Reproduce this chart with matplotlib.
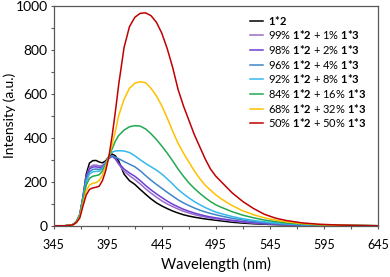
import matplotlib
matplotlib.use("Agg")
from matplotlib import pyplot as plt

plt.rcParams['font.family'] = ['Lato', 'DejaVu Sans']
plt.rcParams['mathtext.fontset'] = 'custom'
plt.rcParams['mathtext.rm'] = 'Lato'
plt.rcParams['mathtext.bf'] = 'Lato:bold'

# comprimentos de onda (nm)
wavelength = [345, 355, 360, 363, 366, 369, 372, 375, 378, 381, 384, 387, 390, 393, 396,
              399, 402, 405, 410, 415, 420, 425, 430, 435, 440, 445, 450, 455, 460, 465,
              470, 475, 480, 485, 490, 495, 500, 510, 520, 530, 540, 550, 560, 575, 590,
              610, 630, 645]

int_0 = [0, 0, 2, 6, 20, 50, 132, 235, 285, 296, 297, 290, 286, 295, 315,
         326, 318, 295, 235, 205, 188, 165, 143, 122, 104, 90, 78, 67, 58, 50,
         44, 39, 35, 31, 28, 25, 22, 16, 12, 9, 7, 5, 4, 3, 2,
         1, 1, 0]
int_1 = [0, 0, 2, 6, 20, 50, 130, 225, 265, 275, 276, 272, 274, 288, 307,
         318, 303, 280, 248, 228, 210, 190, 168, 148, 130, 113, 99, 87, 76, 66,
         58, 51, 45, 40, 35, 31, 28, 22, 16, 12, 9, 7, 5, 3, 2,
         1, 0, 0]
int_2 = [0, 0, 2, 6, 20, 50, 128, 220, 258, 267, 268, 265, 268, 285, 306,
         316, 305, 285, 258, 240, 225, 205, 183, 163, 145, 128, 112, 98, 86, 75,
         66, 58, 51, 45, 40, 36, 32, 25, 19, 14, 10, 8, 5, 3, 2,
         1, 0, 0]
int_4 = [0, 0, 2, 6, 20, 50, 126, 210, 245, 256, 258, 256, 262, 285, 310,
         318, 312, 305, 292, 280, 268, 250, 228, 207, 188, 170, 152, 135, 118, 104,
         92, 81, 71, 63, 56, 50, 44, 34, 26, 19, 14, 10, 7, 4, 2,
         1, 0, 0]
int_8 = [0, 0, 2, 6, 19, 48, 122, 200, 235, 245, 247, 248, 258, 285, 318,
         335, 340, 341, 340, 333, 318, 300, 283, 268, 253, 235, 213, 190, 165, 145,
         127, 110, 96, 83, 72, 62, 55, 42, 32, 24, 18, 13, 9, 5, 3,
         1, 1, 0]
int_16 = [0, 0, 2, 6, 18, 45, 115, 185, 215, 225, 228, 232, 248, 280, 315,
          350, 385, 410, 435, 450, 455, 453, 440, 418, 392, 362, 330, 295, 258, 225,
          195, 170, 148, 128, 110, 95, 84, 64, 48, 36, 26, 19, 13, 8, 4,
          2, 1, 0]
int_32 = [0, 0, 2, 5, 16, 40, 100, 160, 185, 193, 196, 205, 230, 270, 315,
          370, 430, 500, 575, 625, 648, 655, 650, 625, 590, 545, 490, 430, 375, 330,
          290, 250, 215, 185, 162, 140, 122, 92, 68, 50, 36, 26, 18, 10, 5,
          2, 1, 0]
int_50 = [0, 0, 2, 5, 15, 35, 90, 140, 165, 172, 175, 180, 205, 250, 315,
          410, 520, 640, 810, 905, 948, 966, 968, 955, 925, 875, 805, 720, 620, 545,
          480, 415, 360, 305, 258, 225, 200, 150, 110, 78, 52, 35, 24, 13, 7,
          3, 1, 0]

series = [int_0, int_1, int_2, int_4, int_8, int_16, int_32, int_50]
cores = ['#000000', '#9b6bcd', '#6a3fd2', '#3e85c8', '#35b8ec', '#22a852', '#ffc000', '#c00000']
rotulos = [r'$\mathbf{1{*}2}$',
           r'99% $\mathbf{1{*}2}$ + 1% $\mathbf{1{*}3}$',
           r'98% $\mathbf{1{*}2}$ + 2% $\mathbf{1{*}3}$',
           r'96% $\mathbf{1{*}2}$ + 4% $\mathbf{1{*}3}$',
           r'92% $\mathbf{1{*}2}$ + 8% $\mathbf{1{*}3}$',
           r'84% $\mathbf{1{*}2}$ + 16% $\mathbf{1{*}3}$',
           r'68% $\mathbf{1{*}2}$ + 32% $\mathbf{1{*}3}$',
           r'50% $\mathbf{1{*}2}$ + 50% $\mathbf{1{*}3}$']

fig = plt.figure(figsize=(3.9, 2.77), dpi=100)
ax = fig.add_axes([0.138, 0.185, 0.831, 0.794])

for y, cor, rot in zip(series, cores, rotulos):
    ax.plot(wavelength, y, color=cor, linewidth=1.1, label=rot)

ax.set_xlim(345, 645)
ax.set_ylim(0, 1000)
ax.set_xticks(range(345, 646, 50))
ax.set_xticks(range(370, 646, 50), minor=True)
ax.set_yticks(range(0, 1001, 200))
ax.set_yticks(range(100, 1000, 200), minor=True)
ax.tick_params(which='both', direction='out', length=2.5, width=0.8, color='#595959')
ax.tick_params(axis='x', labelsize=9, pad=7)
ax.tick_params(axis='y', labelsize=10, pad=2)
for s in ax.spines.values():
    s.set_color('#595959')
    s.set_linewidth(0.9)

ax.set_xlabel('Wavelength (nm)', fontsize=10.5, labelpad=4)
ax.set_ylabel('Intensity (a.u.)', fontsize=10, va='center')
ax.yaxis.set_label_coords(-0.135, 0.5)

ax.legend(loc='upper right', bbox_to_anchor=(0.985, 0.995), frameon=False, fontsize=8,
          handlelength=1.2, handletextpad=0.45, labelspacing=0.15, borderaxespad=0.2)

fig.savefig('out.png', dpi=100)
